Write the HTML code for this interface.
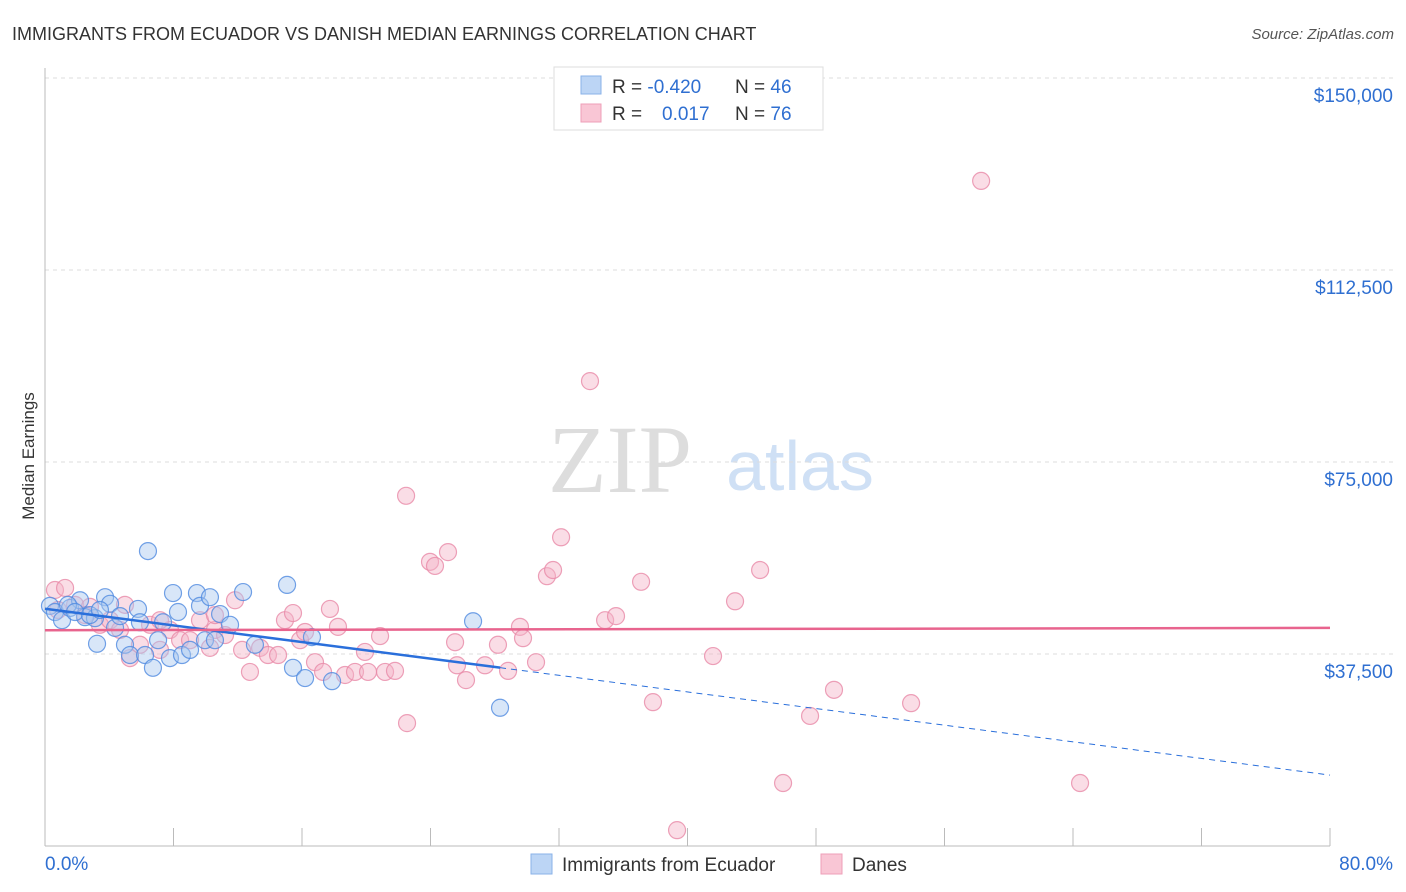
<!DOCTYPE html>
<html><head><meta charset="utf-8"><style>
body{margin:0;background:#fff;font-family:"Liberation Sans",sans-serif;}
svg{display:block}
</style></head><body>
<svg id="chart" width="1406" height="892">
<text x="12" y="40" font-size="18" fill="#333">IMMIGRANTS FROM ECUADOR VS DANISH MEDIAN EARNINGS CORRELATION CHART</text>
<text x="1394" y="39" font-size="15" fill="#555" font-style="italic" text-anchor="end">Source: ZipAtlas.com</text>
<text x="620" y="492" font-size="96" fill="#ddd" font-family="Liberation Serif,serif" text-anchor="middle">ZIP</text>
<text x="800" y="490" font-size="70" fill="#cfe0f5" text-anchor="middle">atlas</text>
<text transform="translate(34,456) rotate(-90)" font-size="17" fill="#333" text-anchor="middle">Median Earnings</text>
<g id="grid"></g><g id="axes"></g><g id="pts"></g><g id="trends"></g>
<g>
<rect x="554" y="67" width="269" height="63" fill="#fff" stroke="#ddd"/>
<rect x="581" y="76" width="20" height="18" fill="#bcd5f5" stroke="#8ab2e8"/>
<rect x="581" y="104" width="20" height="18" fill="#f9c6d5" stroke="#ee9fb8"/>
<text x="612" y="93" font-size="19" fill="#333">R = <tspan fill="#2f6fd1">-0.420</tspan><tspan x="735">N = </tspan><tspan fill="#2f6fd1">46</tspan></text>
<text x="612" y="120" font-size="19" fill="#333">R = <tspan x="662" fill="#2f6fd1">0.017</tspan><tspan x="735">N = </tspan><tspan fill="#2f6fd1">76</tspan></text>
</g>
<g>
<rect x="531" y="854" width="21" height="20" fill="#bcd5f5" stroke="#8ab2e8"/>
<text x="562" y="871" font-size="19" fill="#333">Immigrants from Ecuador</text>
<rect x="821" y="854" width="21" height="20" fill="#f9c6d5" stroke="#ee9fb8"/>
<text x="852" y="871" font-size="19" fill="#333">Danes</text>
</g>
</svg>
<script>
const yTicks=[37500,75000,112500,150000];
const yTickLabels=["$37,500","$75,000","$112,500","$150,000"];
const xTickLabels=["0.0%","80.0%"];
const blueX=[0.31,0.62,1.06,1.56,2.18,2.49,3.11,3.24,3.74,4.05,4.36,4.67,4.98,5.29,5.79,5.91,6.23,6.41,6.72,7.04,7.35,7.78,7.97,8.28,8.53,9.03,9.46,9.65,9.96,10.27,10.58,10.90,11.52,12.33,13.07,15.07,15.44,16.19,16.62,17.87,26.65,28.33,1.43,1.87,2.80,3.42];
const blueY=[46.9,45.7,44.1,46.5,48.0,44.7,44.5,39.5,48.6,47.3,42.6,44.9,39.3,37.3,46.3,43.7,37.3,57.6,34.8,40.2,43.7,36.7,49.4,45.7,37.3,38.3,49.4,46.9,40.2,48.6,40.2,45.3,43.2,49.6,39.3,51.0,34.8,32.8,40.8,32.2,43.9,27.0,47.1,45.7,45.1,46.1];
const pinkX=[0.62,1.25,0.81,1.87,2.80,3.42,4.05,4.67,5.29,5.91,6.54,7.16,7.78,8.41,9.03,9.65,10.27,10.58,11.21,11.83,12.27,12.76,13.39,13.88,14.51,14.94,15.44,15.88,16.19,16.81,17.31,17.74,18.24,18.68,19.30,19.92,20.11,20.86,21.17,21.79,22.48,22.54,23.97,24.28,25.09,25.53,25.65,26.21,27.39,28.20,28.83,29.57,29.76,30.57,31.25,31.63,32.13,33.93,34.87,35.55,37.11,37.85,39.35,41.59,42.96,44.52,45.95,47.63,49.12,53.92,58.28,64.44,7.16,4.98,2.49,10.58];
const pinkY=[50.0,50.4,46.1,47.1,46.7,43.2,44.1,42.2,36.7,39.3,43.2,38.3,42.2,40.2,40.2,44.1,38.7,42.2,41.2,48.0,38.3,34.0,38.7,37.3,37.3,44.1,45.5,40.2,41.8,35.9,34.0,46.3,42.8,33.4,34.0,37.9,34.0,41.0,34.0,34.2,68.4,24.0,55.5,54.7,57.4,39.8,35.3,32.4,35.3,39.3,34.2,42.8,40.6,35.9,52.7,53.9,60.3,90.8,44.1,44.9,51.6,28.1,3.1,37.1,47.8,53.9,12.3,25.4,30.5,27.9,129.9,12.3,44.1,47.1,45.1,45.1];
const NS='http://www.w3.org/2000/svg';
const X=p=>45+p/80*1285;
const Y=k=>846-k*1000/37500*192;
function mk(t,a,parent){const e=document.createElementNS(NS,t);for(const k in a)e.setAttribute(k,a[k]);document.getElementById(parent).appendChild(e);return e;}
// grid
yTicks.forEach((v,i)=>{
  const g=mk('line',{x1:45,x2:1394,y1:Y(v/1000),y2:Y(v/1000),stroke:'#ddd','stroke-dasharray':'4,4'},'grid');
  
  
  const t=mk('text',{x:1393,y:Y(v/1000)+24,'font-size':19,fill:'#2f6fd1','text-anchor':'end'},'grid');
  t.textContent=yTickLabels[i];
  
  
});
const ax=mk('line',{x1:45,x2:45,y1:68,y2:846,stroke:'#bbb'},'axes');


const bx=mk('line',{x1:45,x2:1330,y1:846,y2:846,stroke:'#bbb'},'axes');


for(let i=0;i<=10;i++){
  const tk=mk('line',{x1:X(i*8),x2:X(i*8),y1:828,y2:846,stroke:'#bbb'},'axes');
  
  
}
const xl0=mk('text',{x:45,y:870,'font-size':19,fill:'#2f6fd1'},'axes');xl0.textContent=xTickLabels[0];


const xl1=mk('text',{x:1393,y:870,'font-size':19,fill:'#2f6fd1','text-anchor':'end'},'axes');xl1.textContent=xTickLabels[1];


function pts(xs,ys,fill,stroke,name){
  xs.forEach((x,i)=>{
    const c=mk('circle',{cx:X(x),cy:Y(ys[i]),r:8.5,fill:fill,'fill-opacity':0.45,stroke:stroke,'stroke-opacity':0.8,'stroke-width':1.2},'pts');
    
    
  });
}
pts(pinkX,pinkY,'#f5b3c7','#e88aa8','danes-point');
pts(blueX,blueY,'#a9c8f0','#4f8ae0','ecuador-point');
function fit(xs,ys){const n=xs.length;let mx=0,my=0;xs.forEach((x,i)=>{mx+=x;my+=ys[i]});mx/=n;my/=n;let sxy=0,sxx=0;xs.forEach((x,i)=>{sxy+=(x-mx)*(ys[i]-my);sxx+=(x-mx)**2});const b=sxy/sxx;return [my-b*mx,b];}
const bf=fit(blueX,blueY), pf=fit(pinkX,pinkY);
const bmax=Math.max(...blueX);
let l=mk('line',{x1:X(0),y1:Y(bf[0]),x2:X(bmax),y2:Y(bf[0]+bf[1]*bmax),stroke:'#2a6fdb','stroke-width':2.5},'trends');


l=mk('line',{x1:X(bmax),y1:Y(bf[0]+bf[1]*bmax),x2:X(80),y2:Y(bf[0]+bf[1]*80),stroke:'#2a6fdb','stroke-width':1,'stroke-dasharray':'6,5'},'trends');


l=mk('line',{x1:X(0),y1:Y(pf[0]),x2:X(80),y2:Y(pf[0]+pf[1]*80),stroke:'#e8648e','stroke-width':2.5},'trends');


</script>
</body></html>
